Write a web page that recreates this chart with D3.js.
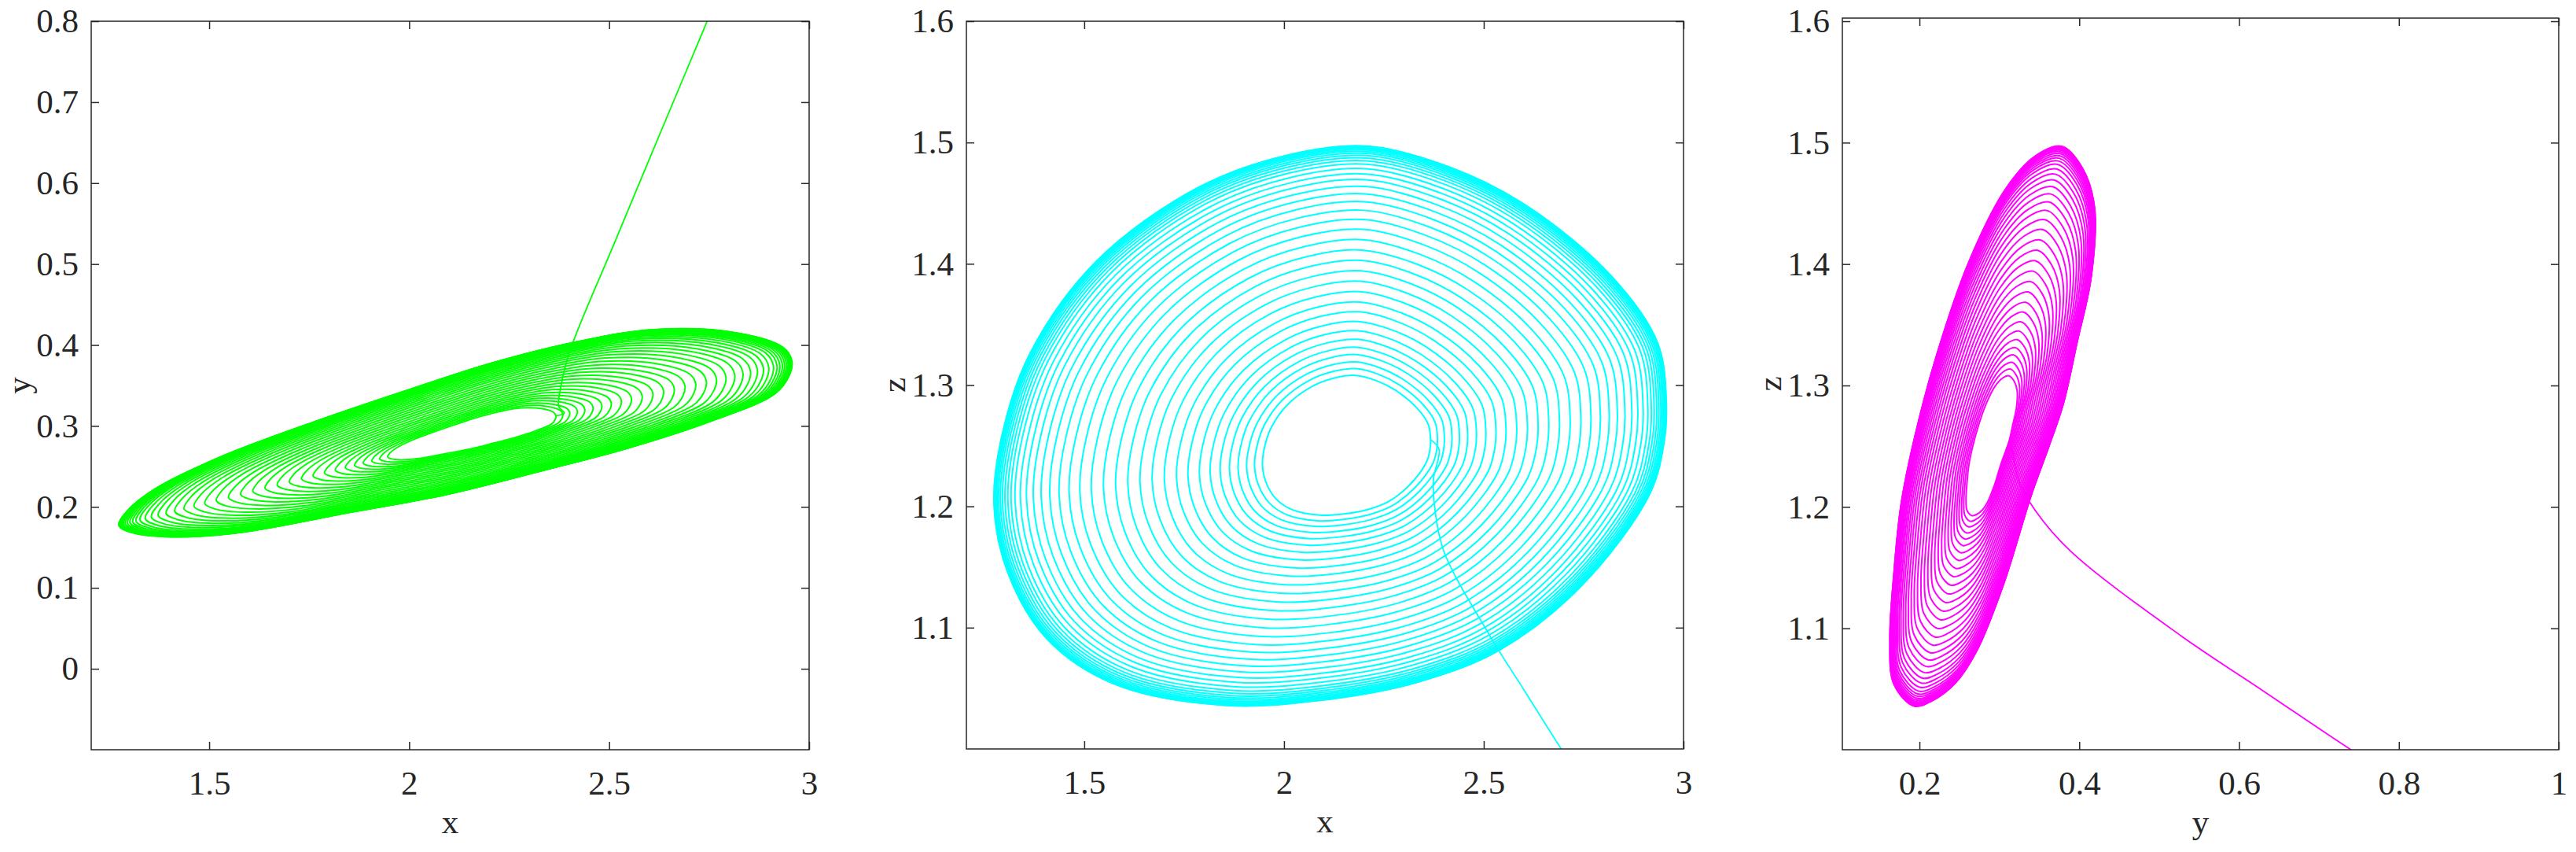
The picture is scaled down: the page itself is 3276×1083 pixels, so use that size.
<!DOCTYPE html>
<html>
<head>
<meta charset="utf-8">
<script src="https://cdn.jsdelivr.net/npm/d3@7"></script>
<style>
  body { margin: 0; background: #fff; }
</style>
</head>
<body>
<svg id="chart" width="3276" height="1083"></svg>
<script>
const cycleX = [2.957, 2.935, 2.819, 2.611, 2.42, 2.209, 2.001, 1.780, 1.530, 1.364, 1.295, 1.274, 1.309, 1.406, 1.572, 1.849, 2.09, 2.334, 2.542, 2.749, 2.915, 2.950];
const cycleY = [0.380, 0.397, 0.415, 0.419, 0.404, 0.378, 0.345, 0.308, 0.262, 0.222, 0.195, 0.177, 0.168, 0.163, 0.168, 0.193, 0.215, 0.245, 0.272, 0.305, 0.340, 0.362];
const cycleZ = [1.285, 1.335, 1.390, 1.447, 1.479, 1.497, 1.489, 1.462, 1.402, 1.326, 1.260, 1.202, 1.145, 1.091, 1.054, 1.036, 1.040, 1.055, 1.082, 1.136, 1.210, 1.250];

// equilibrium the spiral winds out of
const eqX = 2.17, eqY = 0.29, eqZ = 1.245;

// relative size of each turn of the spiral (1 = outer orbit)
const turnScale = [0.25, 0.272, 0.294, 0.318, 0.342, 0.368, 0.396, 0.426, 0.458, 0.49, 0.524, 0.558,
  0.592, 0.626, 0.66, 0.694, 0.728, 0.76, 0.79, 0.818, 0.844, 0.868, 0.89, 0.909, 0.926, 0.941,
  0.952, 0.961, 0.969, 0.976, 0.982, 0.987, 0.991, 0.994, 0.996, 0.998, 0.999, 1.0];

// transient from the initial point into the first turn
const transX = [2.80, 2.745, 2.694, 2.60, 2.514, 2.40, 2.378, 2.374, 2.388];
const transY = [0.865, 0.80, 0.74, 0.629, 0.527, 0.39, 0.345, 0.324, 0.316];
const transZ = [0.948, 0.975, 1.0, 1.049, 1.094, 1.163, 1.197, 1.222, 1.247];

// tick labels
const xTicks = [1.5, 2, 2.5, 3];
const yTicks1 = [0, 0.1, 0.2, 0.3, 0.4, 0.5, 0.6, 0.7, 0.8];
const zTicks = [1.1, 1.2, 1.3, 1.4, 1.5, 1.6];
const yTicks3 = [0.2, 0.4, 0.6, 0.8, 1];

const panels = [
  {h: "x", v: "y", left: 116, right: 1029, top: 27, bottom: 953, hDom: [1.205, 3], vDom: [-0.1, 0.8], hTicks: xTicks, vTicks: yTicks1, color: "#00ff00"},
  {h: "x", v: "z", left: 1229, right: 2141, top: 27, bottom: 952, hDom: [1.205, 3], vDom: [1.0, 1.6], hTicks: xTicks, vTicks: zTicks, color: "#00ffff"},
  {h: "y", v: "z", left: 2343, right: 3254, top: 23, bottom: 953, hDom: [0.1035, 1], vDom: [1.0, 1.6026], hTicks: yTicks3, vTicks: zTicks, color: "#ff00ff"}
];

const serif = '"Liberation Serif", "Times New Roman", "DejaVu Serif", serif';
const svg = d3.select("#chart");
svg.append("rect").attr("width", 3276).attr("height", 1083).attr("fill", "#fff");

// build turns
const turns = turnScale.map(function (s) {
  return cycleX.map(function (d, i) {
    return {x: eqX + s * (cycleX[i] - eqX), y: eqY + s * (cycleY[i] - eqY), z: eqZ + s * (cycleZ[i] - eqZ)};
  });
});
const trans = transX.map(function (d, i) { return {x: transX[i], y: transY[i], z: transZ[i]}; });
trans.push(turns[0][0]);

const fmt = d3.format("~g");

panels.forEach(function (p, k) {
  const sx = d3.scaleLinear().domain(p.hDom).range([p.left, p.right]);
  const sy = d3.scaleLinear().domain(p.vDom).range([p.bottom, p.top]);
  const w = p.right - p.left, h = p.bottom - p.top;

  svg.append("clipPath").attr("id", "clip" + k)
    .append("rect").attr("x", p.left).attr("y", p.top).attr("width", w).attr("height", h);

  const g = svg.append("g").attr("clip-path", "url(#clip" + k + ")");

  const loop = d3.line()
    .x(function (d) { return sx(d[p.h]); })
    .y(function (d) { return sy(d[p.v]); })
    .curve(d3.curveCatmullRomClosed.alpha(0.5));
  const open = d3.line()
    .x(function (d) { return sx(d[p.h]); })
    .y(function (d) { return sy(d[p.v]); })
    .curve(d3.curveCatmullRom.alpha(0.5));

  g.selectAll("path.turn")
    .data(turns)
    .enter()
    .append("path")
    .attr("class", "turn")
    .attr("d", loop)
    .attr("fill", "none")
    .attr("stroke", p.color)
    .attr("stroke-width", 2);

  g.append("path")
    .attr("d", open(trans))
    .attr("fill", "none")
    .attr("stroke", p.color)
    .attr("stroke-width", 1.8);

  // axes, ticks inside on all four sides
  const bottomAxis = d3.axisBottom(sx).tickValues(p.hTicks).tickFormat(fmt).tickSizeInner(-10).tickSizeOuter(0).tickPadding(26);
  const leftAxis = d3.axisLeft(sy).tickValues(p.vTicks).tickFormat(fmt).tickSizeInner(-10).tickSizeOuter(0).tickPadding(16);
  const topAxis = d3.axisTop(sx).tickValues(p.hTicks).tickFormat("").tickSizeInner(-10).tickSizeOuter(0);
  const rightAxis = d3.axisRight(sy).tickValues(p.vTicks).tickFormat("").tickSizeInner(-10).tickSizeOuter(0);

  const axes = [
    svg.append("g").attr("transform", "translate(0," + p.bottom + ")").call(bottomAxis),
    svg.append("g").attr("transform", "translate(" + p.left + ",0)").call(leftAxis),
    svg.append("g").attr("transform", "translate(0," + p.top + ")").call(topAxis),
    svg.append("g").attr("transform", "translate(" + p.right + ",0)").call(rightAxis)
  ];
  axes.forEach(function (a) {
    a.select(".domain").remove();
    a.selectAll("line").attr("stroke", "#262626").attr("stroke-width", 1.5);
    a.selectAll("text")
      .style("font-family", serif)
      .style("font-size", "43px")
      .style("fill", "#262626");
  });

  svg.append("rect")
    .attr("x", p.left).attr("y", p.top).attr("width", w).attr("height", h)
    .attr("fill", "none").attr("stroke", "#262626").attr("stroke-width", 1.5);

  svg.append("text")
    .attr("x", (p.left + p.right) / 2).attr("y", p.bottom + 106)
    .attr("text-anchor", "middle")
    .style("font-family", serif).style("font-size", "43px").style("fill", "#262626")
    .text(p.h);

  svg.append("text")
    .attr("transform", "translate(" + (p.left - 78) + "," + ((p.top + p.bottom) / 2) + ") rotate(-90)")
    .attr("text-anchor", "middle")
    .style("font-family", serif).style("font-size", "43px").style("fill", "#262626")
    .text(p.v);
});
</script>
</body>
</html>
